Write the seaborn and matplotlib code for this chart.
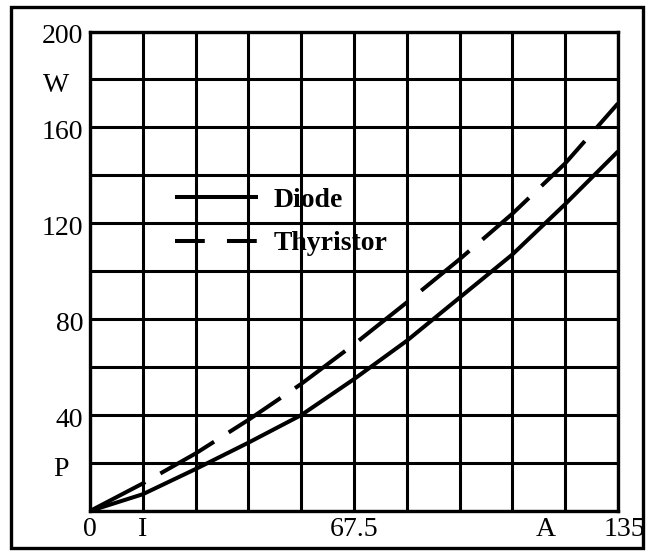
import matplotlib
matplotlib.use("Agg")
import matplotlib.pyplot as plt
import matplotlib.transforms as mtransforms
from matplotlib.lines import Line2D
from matplotlib.patches import Rectangle
import seaborn as sns
import pandas as pd

# ---- data ----
current = [0, 13.5, 27, 40.5, 54, 67.5, 81, 94.5, 108, 121.5, 135]
diode = [0, 7, 17.5, 28.5, 40, 55, 71, 89, 107, 128, 150]
thyristor = [0, 11.5, 24, 38, 53, 69.5, 87, 105, 124, 145, 170]
series_names = ["Diode", "Thyristor"]

x_grid = [0, 13.5, 27, 40.5, 54, 67.5, 81, 94.5, 108, 121.5, 135]
y_grid = [0, 20, 40, 60, 80, 100, 120, 140, 160, 180, 200]
x_label_pos = [0, 13.5, 67.5, 116.5, 135]
x_labels = ["0", "I", "67.5", "A", "135"]
y_label_pos = [20, 40, 80, 120, 160, 180, 200]
y_labels = ["P", "40", "80", "120", "160", "W", "200"]

df = pd.DataFrame({
    "I": current * 2,
    "P": diode + thyristor,
    "device": [series_names[0]] * len(current) + [series_names[1]] * len(current),
})

sns.set_theme(style="white")
plt.rcParams["font.family"] = ["Liberation Serif", "DejaVu Serif"]

fig = plt.figure(figsize=(6.5, 5.55), dpi=100)
ax = fig.add_axes([90 / 650, 44 / 555, 528 / 650, 479.5 / 555])

LW = 2.9
sns.lineplot(data=df, x="I", y="P", style="device",
             dashes={"Diode": "", "Thyristor": (15.5, 4.3)},
             color="black", linewidth=LW, ax=ax, legend=False, zorder=3)
for ln in ax.get_lines():
    ln.set_dash_capstyle("butt")
    ln.set_solid_capstyle("butt")

ax.set_xlim(0, 135)
ax.set_ylim(0, 200)

# grid on major ticks, labels on minor ticks
ax.xaxis.remove_overlapping_locs = False
ax.yaxis.remove_overlapping_locs = False
ax.set_xticks(x_grid)
ax.set_yticks(y_grid)
ax.tick_params(which="major", length=0, labelbottom=False, labelleft=False)
ax.set_xticks(x_label_pos, labels=x_labels, minor=True)
ax.set_yticks(y_label_pos, labels=y_labels, minor=True)
ax.tick_params(which="minor", length=0, labelsize=20, colors="black")
ax.tick_params(axis="x", which="minor", pad=4)
ax.tick_params(axis="y", which="minor", pad=5)
ax.grid(True, which="major", color="black", linewidth=2.2)
ax.set_axisbelow(True)
for sp in ax.spines.values():
    sp.set_color("black")
    sp.set_linewidth(2.4)
ax.set_xlabel("")
ax.set_ylabel("")

# shift the letter labels a bit toward the middle of the number column
for lab in ax.get_yticklabels(minor=True):
    if lab.get_text() in ("P", "W"):
        lab.set_transform(lab.get_transform() + mtransforms.ScaledTranslation(-14 / 100, -3 / 100, fig.dpi_scale_trans))
    else:
        lab.set_transform(lab.get_transform() + mtransforms.ScaledTranslation(0, -2 / 100, fig.dpi_scale_trans))
for lab in ax.get_xticklabels(minor=True):
    if lab.get_text() == "135":
        lab.set_transform(lab.get_transform() + mtransforms.ScaledTranslation(6 / 100, 0, fig.dpi_scale_trans))

handles = [
    Line2D([], [], color="black", linewidth=LW, solid_capstyle="butt"),
    Line2D([], [], color="black", linewidth=LW, dashes=(7.4, 5.5), dash_capstyle="butt"),
]
leg = ax.legend(handles, series_names, loc="upper left", bbox_to_anchor=(0.161, 0.675),
                frameon=False, handlelength=3.0, handletextpad=0.55,
                labelspacing=0.65, borderpad=0, borderaxespad=0,
                prop={"family": ["Liberation Serif", "DejaVu Serif"], "size": 20, "weight": "bold"})
for t in leg.get_texts():
    t.set_color("black")

# outer frame around whole figure
fig.patches.append(Rectangle((11 / 650, 7 / 555), 632 / 650, 541 / 555, transform=fig.transFigure,
                             fill=False, edgecolor="black", linewidth=2.4))

fig.savefig("out.png", dpi=100, facecolor="white")
